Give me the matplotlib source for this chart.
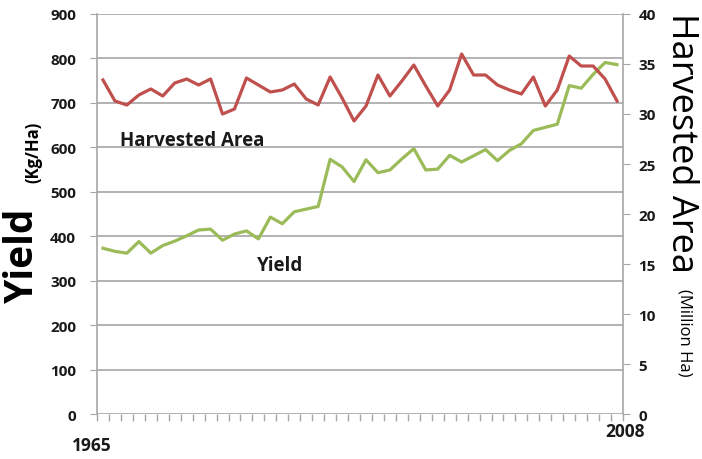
import matplotlib.pyplot as plt
import numpy as np

# Data, 1965-2008
years = list(range(1965, 2009))
yield_kg_ha = [373, 366, 362, 388, 362, 379, 389, 401, 414, 416, 391, 405, 412, 394, 443,
               428, 455, 461, 467, 573, 556, 523, 572, 543, 549, 574, 597, 549, 551, 582,
               567, 581, 595, 570, 593, 608, 638, 645, 652, 739, 733, 764, 791, 786]
area_mha = [33.4, 31.3, 30.9, 31.9, 32.5, 31.8, 33.1, 33.5, 32.9, 33.5, 30.0, 30.5, 33.6, 32.9, 32.2,
            32.4, 33.0, 31.5, 30.9, 33.7, 31.6, 29.3, 30.8, 33.9, 31.8, 33.3, 34.9, 32.8, 30.8, 32.4,
            36.0, 33.9, 33.9, 32.9, 32.4, 32.0, 33.7, 30.8, 32.4, 35.8, 34.8, 34.8, 33.5, 31.3]

yield_ticks = list(range(0, 901, 100))
area_ticks = list(range(0, 41, 5))

red = '#c0504d'
green = '#9bbb59'
grid_gray = '#a6a6a6'
txt = '#1a1a1a'
font = 'Open Sans'

fig = plt.figure(figsize=(7.02, 4.6), dpi=100)
ax = fig.add_axes([0.1382, 0.0978, 0.7493, 0.8696])
ax2 = ax.twinx()

x = np.arange(len(years))
ax.plot(x, yield_kg_ha, color=green, lw=2.3, zorder=3)
ax2.plot(x, area_mha, color=red, lw=2.3, zorder=3)

ax.set_xlim(-0.5, len(years) - 0.5)
ax.set_ylim(0, 900)
ax2.set_ylim(0, 40)
ax.set_yticks(yield_ticks)
ax2.set_yticks(area_ticks)

# horizontal gridlines
ax.grid(True, axis='y', color=grid_gray, lw=1.2)
ax.set_axisbelow(True)

# category tick marks on the bottom
ax.set_xticks(np.arange(-0.5, len(years)))
ax.set_xticklabels([])
ax.tick_params(axis='x', length=5, color=grid_gray, width=1, direction='out')

for a in (ax, ax2):
    for s in ('top', 'bottom'):
        a.spines[s].set_visible(False)
    a.spines['left'].set_color(grid_gray)
    a.spines['right'].set_color(grid_gray)
    a.spines['left'].set_linewidth(1.2)
    a.spines['right'].set_linewidth(1.2)
ax.spines['right'].set_visible(False)
ax2.spines['left'].set_visible(False)

ax.tick_params(axis='y', length=5, color=grid_gray, pad=10, labelsize=11, labelcolor=txt)
ax2.tick_params(axis='y', length=5, color=grid_gray, pad=6, labelsize=11, labelcolor=txt)
for lab in ax.get_yticklabels() + ax2.get_yticklabels():
    lab.set_fontweight('bold')
    lab.set_fontfamily(font)

# year labels at the ends
fig.text(92 / 702, 1 - 446 / 460, str(years[0]), ha='center', va='center',
         fontsize=12.5, fontweight='bold', color=txt, family=font)
fig.text(625 / 702, 1 - 432 / 460, str(years[-1]), ha='center', va='center',
         fontsize=12.5, fontweight='bold', color=txt, family=font)

# axis titles
fig.text(22 / 702, 1 - 255 / 460, 'Yield', rotation=90, ha='center', va='center',
         fontsize=28, fontweight='bold', color='black', family=font)
fig.text(33 / 702, 1 - 152 / 460, '(Kg/Ha)', rotation=90, ha='center', va='center',
         fontsize=12, fontweight='bold', color='black', family=font)
fig.text(681 / 702, 1 - 143 / 460, 'Harvested Area', rotation=-90, ha='center', va='center',
         fontsize=26, color='black', family=font)
fig.text(684 / 702, 1 - 333 / 460, '(Million Ha)', rotation=-90, ha='center', va='center',
         fontsize=12, color='black', family=font)

# series labels
ax.text(7.5, 617, 'Harvested Area', ha='center', va='center',
        fontsize=13.5, fontweight='bold', color=txt, family=font)
ax.text(14.8, 335, 'Yield', ha='center', va='center',
        fontsize=13.5, fontweight='bold', color=txt, family=font)

fig.savefig('out.png', dpi=100, facecolor='white')
